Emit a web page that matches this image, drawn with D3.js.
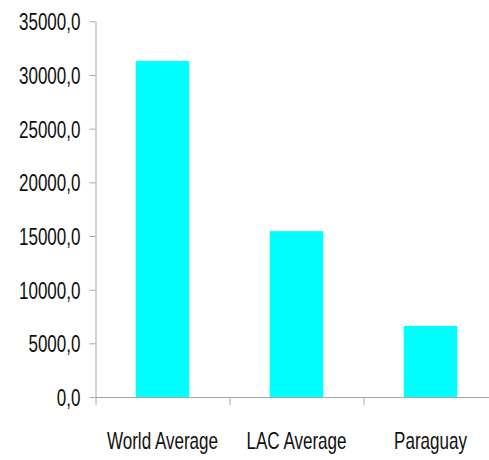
<!DOCTYPE html>
<html>
<head>
<meta charset="utf-8">
<script src="https://cdn.jsdelivr.net/npm/d3@7"></script>
<style>
  body { margin: 0; background: #fff; }
  text { font-family: "Liberation Sans", Arial, sans-serif; font-size: 24px; fill: #111; }
</style>
</head>
<body>
<script>
// chart data
let categories = ["World Average", "LAC Average", "Paraguay"];
let values = [31300, 15450, 6620];
let yTicks = [0, 5000, 10000, 15000, 20000, 25000, 30000, 35000];

let width = 489;
let height = 460;
let plotLeft = 95.5, plotRight = 497.5, plotTop = 21.3, plotBottom = 397;
let squeeze = 0.71; // the original uses a tall condensed face

let svg = d3.select("body").append("svg")
    .attr("width", width)
    .attr("height", height);

let x = d3.scaleBand()
    .domain(categories)
    .range([plotLeft, plotRight])
    .paddingInner(0.6)
    .paddingOuter(0.3);

let y = d3.scaleLinear()
    .domain([0, 35000])
    .range([plotBottom, plotTop]);

// comma as decimal mark, like the original
let fmt = d3.formatLocale({ decimal: ",", thousands: "", grouping: [3], currency: ["", ""] }).format(".1f");

// bars first so the axis line sits on top
svg.append("g").selectAll("rect")
    .data(categories)
    .join("rect")
    .attr("x", d => x(d))
    .attr("y", (d, i) => y(values[i]))
    .attr("width", x.bandwidth())
    .attr("height", (d, i) => y(0) - y(values[i]))
    .attr("fill", "#00ffff");

// y axis
let yAxisGroup = svg.append("g").attr("transform", "translate(" + plotLeft + ",0)");
yAxisGroup.call(d3.axisLeft(y).tickValues(yTicks).tickFormat(fmt).tickSize(6).tickPadding(9).tickSizeOuter(0));
yAxisGroup.attr("font-size", null).attr("font-family", null);
yAxisGroup.selectAll("text")
    .attr("dy", "0.36em")
    .attr("x", -15 / squeeze)
    .attr("transform", "scale(" + squeeze + ",1)");

// x axis: ticks at category boundaries, labels at band centres
let bounds = d3.scaleLinear().domain([0, categories.length]).range([plotLeft, plotRight]);
let xAxisGroup = svg.append("g").attr("transform", "translate(0," + plotBottom + ")");
xAxisGroup.call(d3.axisBottom(bounds).tickValues(d3.range(categories.length + 1)).tickFormat("").tickSize(8).tickSizeOuter(0));

svg.append("g").selectAll("text")
    .data(categories)
    .join("text")
    .attr("transform", d => "translate(" + (x(d) + x.bandwidth() / 2) + ",449) scale(" + squeeze + ",1)")
    .attr("text-anchor", "middle")
    .text(d => d);

svg.selectAll(".domain, .tick line").attr("stroke", "#a6a6a6");
</script>
</body>
</html>
